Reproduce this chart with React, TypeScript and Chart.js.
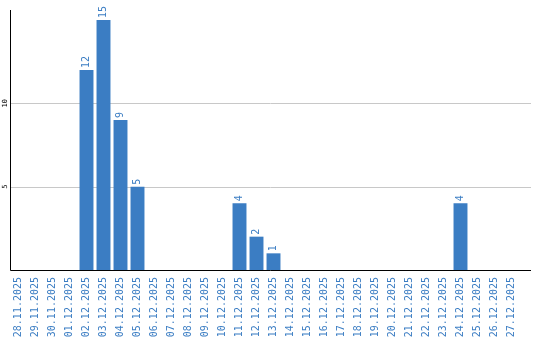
import React, { useEffect, useRef } from "react";
import { Chart, registerables } from "chart.js";

Chart.register(...registerables);

const dates = [
  "28.11.2025", "29.11.2025", "30.11.2025", "01.12.2025", "02.12.2025", "03.12.2025",
  "04.12.2025", "05.12.2025", "06.12.2025", "07.12.2025", "08.12.2025", "09.12.2025",
  "10.12.2025", "11.12.2025", "12.12.2025", "13.12.2025", "14.12.2025", "15.12.2025",
  "16.12.2025", "17.12.2025", "18.12.2025", "19.12.2025", "20.12.2025", "21.12.2025",
  "22.12.2025", "23.12.2025", "24.12.2025", "25.12.2025", "26.12.2025", "27.12.2025",
];
const counts = [
  0, 0, 0, 0, 12, 15, 9, 5, 0, 0, 0, 0, 0, 4, 2, 1, 0, 0, 0, 0, 0, 0, 0, 0, 0, 0, 4, 0, 0, 0,
];
const yTickLabels = [5, 10];

const BLUE = "#3b7dc3";
const FONT = "DejaVu Sans Mono";

const overlay = {
  id: "overlay",
  beforeDatasetsDraw(chart: any) {
    const ctx = chart.ctx;
    const y = chart.scales.y;
    const area = chart.chartArea;
    ctx.save();
    ctx.strokeStyle = "#c8c8c8";
    ctx.lineWidth = 1;
    yTickLabels.forEach((t) => {
      const py = Math.round(y.getPixelForValue(t)) + 0.5;
      ctx.beginPath();
      ctx.moveTo(area.left, py);
      ctx.lineTo(area.right + 11, py);
      ctx.stroke();
    });
    ctx.restore();
  },
  afterDraw(chart: any) {
    const ctx = chart.ctx;
    const x = chart.scales.x;
    const y = chart.scales.y;
    const area = chart.chartArea;
    ctx.save();
    // axis lines
    ctx.strokeStyle = "#000";
    ctx.lineWidth = 1;
    ctx.beginPath();
    ctx.moveTo(area.left + 0.5, area.top);
    ctx.lineTo(area.left + 0.5, area.bottom + 0.5);
    ctx.lineTo(area.right + 11, area.bottom + 0.5);
    ctx.stroke();
    // x labels
    ctx.fillStyle = BLUE;
    ctx.font = `10px ${FONT}`;
    dates.forEach((d, i) => {
      const px = x.getPixelForValue(i);
      ctx.save();
      ctx.translate(px, area.bottom + 7);
      ctx.rotate(-Math.PI / 2);
      ctx.textAlign = "right";
      ctx.textBaseline = "middle";
      ctx.fillText(d, 0, 0);
      ctx.restore();
    });
    // value labels
    counts.forEach((v, i) => {
      if (!v) return;
      const px = x.getPixelForValue(i);
      const py = y.getPixelForValue(v);
      ctx.save();
      ctx.translate(px, py - 2);
      ctx.rotate(-Math.PI / 2);
      ctx.textAlign = "left";
      ctx.textBaseline = "middle";
      ctx.fillText(String(v), 0, 0);
      ctx.restore();
    });
    // y labels
    ctx.fillStyle = "#000";
    ctx.font = `7px ${FONT}`;
    yTickLabels.forEach((t) => {
      const py = y.getPixelForValue(t);
      ctx.save();
      ctx.translate(5.5, py);
      ctx.rotate(-Math.PI / 2);
      ctx.textAlign = "center";
      ctx.textBaseline = "middle";
      ctx.fillText(String(t), 0, 0);
      ctx.restore();
    });
    ctx.restore();
  },
};

export default function App() {
  const ref = useRef<HTMLCanvasElement>(null);
  useEffect(() => {
    document.body.style.margin = "0";
    const chart = new Chart(ref.current!, {
      type: "bar",
      data: {
        labels: dates,
        datasets: [
          {
            data: counts,
            backgroundColor: BLUE,
            barPercentage: 0.82,
            categoryPercentage: 1,
          },
        ],
      },
      options: {
        animation: false,
        responsive: false,
        layout: { padding: { left: 10, top: 10, right: 20, bottom: 70 } },
        plugins: { legend: { display: false }, tooltip: { enabled: false } },
        scales: {
          x: {
            ticks: { display: false },
            grid: { display: false, drawTicks: false },
            border: { display: false },
          },
          y: {
            min: 0,
            max: 15.6,
            ticks: { display: false, stepSize: 5 },
            grid: { display: false, drawTicks: false },
            border: { display: false },
          },
        },
      },
      plugins: [overlay],
    });
    return () => chart.destroy();
  }, []);
  return <canvas ref={ref} width={540} height={340} style={{ display: "block" }} />;
}
